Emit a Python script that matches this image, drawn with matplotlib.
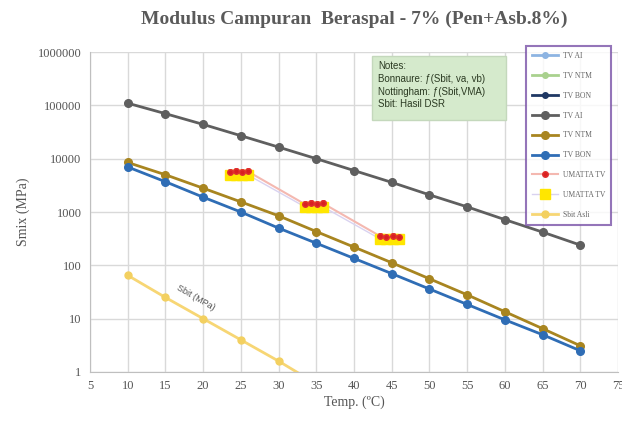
import matplotlib
matplotlib.use("Agg")
import matplotlib.pyplot as plt
from matplotlib.patches import FancyBboxPatch
import numpy as np

temps = [10, 15, 20, 25, 30, 35, 40, 45, 50, 55, 60, 65, 70]
tv_ai = [110000, 70000, 44000, 27000, 16500, 10000, 6000, 3600, 2100, 1250, 720, 420, 240]
tv_ntm = [8500, 5000, 2800, 1550, 850, 430, 220, 112, 56, 28, 13.5, 6.5, 3.1]
tv_bon = [7000, 3700, 1900, 1000, 500, 260, 135, 70, 36, 18.5, 9.5, 5.0, 2.5]
sbit_temps = [10, 15, 20, 25, 30, 35]
sbit = [65, 25, 10, 4.0, 1.6, 0.6]
umatta_x = [23.5, 24.3, 25.1, 25.9, 33.5, 34.3, 35.1, 35.9, 43.5, 44.3, 45.1, 45.9]
umatta_red = [5600, 5800, 5600, 5800, 1400, 1450, 1400, 1450, 350, 340, 350, 340]
umatta_yel = [5000, 5000, 5000, 5000, 1250, 1250, 1250, 1250, 310, 310, 310, 310]

xticks = [5, 10, 15, 20, 25, 30, 35, 40, 45, 50, 55, 60, 65, 70, 75]
yticks = [1, 10, 100, 1000, 10000, 100000, 1000000]
ytick_labels = ["1", "10", "100", "1000", "10000", "100000", "1000000"]

serif = "Liberation Serif"
fig = plt.figure(figsize=(6.22, 4.30), dpi=100)
ax = fig.add_axes([0.1447, 0.1349, 0.849, 0.744])
ax.set_yscale("log")
ax.set_xlim(5, 75)
ax.set_ylim(1, 1000000)
ax.set_xticks(xticks)
ax.set_xticklabels([str(t) for t in xticks], fontfamily=serif, fontsize=9, color="#555555")
ax.set_yticks(yticks)
ax.set_yticklabels(ytick_labels, fontfamily=serif, fontsize=9, color="#555555")
ax.minorticks_off()
ax.tick_params(length=0, pad=6)
ax.grid(True, color="#d9d9d9", linewidth=1)
ax.set_axisbelow(True)
for s in ["top", "right"]:
    ax.spines[s].set_visible(False)
for s in ["left", "bottom"]:
    ax.spines[s].set_color("#bfbfbf")

# legend-only series (not visible in the plot area)
h1, = ax.plot([], [], color="#8db4e2", marker="o", ms=4, lw=2, label="TV AI")
h2, = ax.plot([], [], color="#a9d18e", marker="o", ms=4, lw=2, label="TV NTM")
h3, = ax.plot([], [], color="#1f3864", marker="o", ms=4, lw=2, label="TV BON")

h4, = ax.plot(temps, tv_ai, color="#5f5f5f", marker="o", ms=5.5, lw=2, label="TV AI")
h5, = ax.plot(temps, tv_ntm, color="#a88520", marker="o", ms=5.5, lw=2, label="TV NTM")
h6, = ax.plot(temps, tv_bon, color="#2f6db5", marker="o", ms=5.5, lw=2, label="TV BON")

h7, = ax.plot(umatta_x, umatta_red, color="#f4b8b0", marker="o", ms=4, lw=1.5,
              mfc="#d92020", mec="#e03030", label="UMATTA TV")
h8, = ax.plot(umatta_x, umatta_yel, color="#d9d2f0", marker="s", ms=7, lw=1,
              mfc="#ffe600", mec="#ffe600", label="UMATTA TV")
h9, = ax.plot(sbit_temps, sbit, color="#f7d674", marker="o", ms=5, lw=2,
              mfc="#f3d060", mec="#f3d060", label="Sbit Asli")
ax.plot(umatta_x, umatta_red, color="none", marker="o", ms=4, mfc="#d92020", mec="#e03030", zorder=5)

ax.text(19, 25, "Sbit (MPa)", rotation=-30, fontsize=6.5, color="#555555",
        fontfamily="Liberation Sans", ha="center", va="center")

ax.set_xlabel("Temp. (ºC)", fontfamily=serif, fontsize=10, color="#555555", labelpad=2)
ax.set_ylabel("Smix (MPa)", fontfamily=serif, fontsize=10, color="#555555", labelpad=6)

fig.text(0.57, 0.955, "Modulus Campuran  Beraspal - 7% (Pen+Asb.8%)", ha="center", va="center",
         fontfamily=serif, fontweight="bold", fontsize=14, color="#5a5a5a")

# notes box
box = FancyBboxPatch((0.598, 0.722), 0.215, 0.148, boxstyle="square,pad=0",
                     transform=fig.transFigure, facecolor="#d5eacc", edgecolor="#c4d8bc", lw=1)
fig.patches.append(box)
fig.text(0.608, 0.858, "Notes:\nBonnaure: ƒ(Sbit, va, vb)\nNottingham: ƒ(Sbit,VMA)\nSbit: Hasil DSR",
         ha="left", va="top", fontsize=7, color="#2b3a22", fontfamily="Liberation Sans", linespacing=1.35)

leg = fig.legend(handles=[h1, h2, h3, h4, h5, h6, h7, h8, h9],
                 loc="upper left", bbox_to_anchor=(0.84, 0.902), frameon=True,
                 prop={"family": serif, "size": 5.5}, labelcolor="#666666",
                 handlelength=3.4, labelspacing=1.55, borderpad=0.8, handletextpad=0.6)
leg.get_frame().set_edgecolor("#7a52a8")
leg.get_frame().set_linewidth(1.5)
leg.get_frame().set_boxstyle("square", pad=0)

fig.savefig("out.png", dpi=100)
